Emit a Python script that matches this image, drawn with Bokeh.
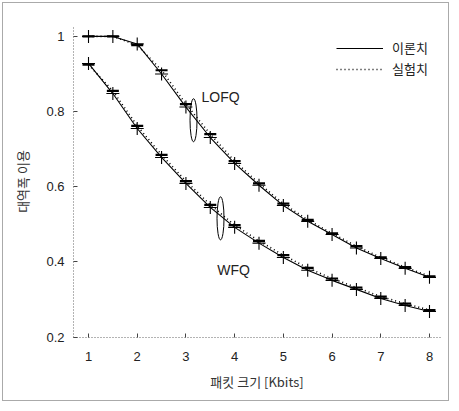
from bokeh.plotting import figure
from bokeh.models import Legend, LegendItem, Label, FixedTicker
from bokeh.embed import file_html
from bokeh.resources import INLINE

# ---- data ----
packet_kbits = [1, 1.5, 2, 2.5, 3, 3.5, 4, 4.5, 5, 5.5, 6, 6.5, 7, 7.5, 8]
lofq_theory = [1.0, 1.0, 0.98, 0.90, 0.812, 0.731, 0.662, 0.604, 0.55, 0.508, 0.473, 0.437, 0.409, 0.383, 0.359]
lofq_exp = [1.0, 1.0, 0.977, 0.91, 0.82, 0.74, 0.668, 0.609, 0.555, 0.512, 0.476, 0.442, 0.412, 0.386, 0.362]
wfq_theory = [0.928, 0.848, 0.755, 0.678, 0.609, 0.545, 0.492, 0.45, 0.412, 0.378, 0.351, 0.327, 0.303, 0.284, 0.268]
wfq_exp = [0.925, 0.855, 0.762, 0.685, 0.615, 0.552, 0.498, 0.456, 0.418, 0.384, 0.356, 0.332, 0.308, 0.289, 0.272]
x_ticks = [1, 2, 3, 4, 5, 6, 7, 8]
y_ticks = [0.2, 0.4, 0.6, 0.8, 1.0]
y_tick_labels = {0.2: "0.2", 0.4: "0.4", 0.6: "0.6", 0.8: "0.8", 1.0: "1"}
series_names = ["이론치", "실험치"]
group_names = ["LOFQ", "WFQ"]
group_label_pos = [(3.71, 0.838), (3.98, 0.378)]
ellipse_pos = [(3.156, 0.777), (3.71, 0.516)]

FONT = "Liberation Sans"
KFONT = "Noto Sans CJK KR"

W, H = 451, 403
p = figure(width=W, height=H, output_backend="svg", toolbar_location=None,
           x_range=(0.692, 8.226), y_range=(0.199, 1.029),
           min_border_left=73, min_border_right=11, min_border_top=25, min_border_bottom=66)
p.outline_line_color = None
p.grid.visible = False
p.border_fill_color = None
p.background_fill_color = None
p.styles = {"background": "white", "outline": "1px solid #aaa", "outline-offset": "-3px"}

p.xaxis.ticker = FixedTicker(ticks=x_ticks)
p.yaxis.ticker = FixedTicker(ticks=y_ticks)
p.yaxis.major_label_overrides = y_tick_labels
for ax in (p.xaxis, p.yaxis):
    ax.axis_line_color = "#666"
    ax.axis_line_dash = "1 2"
    ax.major_tick_out = 0
    ax.major_tick_in = 4
    ax.major_tick_line_color = "#444"
    ax.minor_tick_line_color = None
    ax.major_label_text_font = FONT
    ax.major_label_text_font_size = "13px"
    ax.major_label_text_color = "#222"
    ax.axis_label_text_font = KFONT
    ax.axis_label_text_font_size = "13px"
    ax.axis_label_text_font_style = "normal"
    ax.axis_label_text_color = "#333"
p.xaxis.major_label_standoff = 14
p.yaxis.major_label_standoff = 9
p.xaxis.axis_label = "패킷 크기 [Kbits]"
p.yaxis.axis_label = "대역폭 이용"
p.xaxis.axis_label_standoff = 8
p.yaxis.axis_label_standoff = 11

# theory (solid) and experiment (dotted)
r_th = []
r_ex = []
for th, ex in ((lofq_theory, lofq_exp), (wfq_theory, wfq_exp)):
    r_th.append(p.line(packet_kbits, th, line_color="black", line_width=1.1))
    r_ex.append(p.line(packet_kbits, ex, line_color="black", line_width=1.6, line_dash="1 3"))
    p.scatter(packet_kbits, th, marker="cross", size=13, line_color="black", line_width=1.1)
    p.scatter(packet_kbits, ex, marker="dash", size=12, line_color="black", line_width=2.2)

# ellipses marking the curve pairs
p.ellipse(x=[e[0] for e in ellipse_pos], y=[e[1] for e in ellipse_pos],
          width=7, height=43, width_units="screen", height_units="screen",
          fill_color=None, line_color="black", line_width=1)

for name, (gx, gy) in zip(group_names, group_label_pos):
    p.add_layout(Label(x=gx, y=gy, text=name, text_font=FONT, text_font_size="14px",
                       text_color="#222", text_align="center", text_baseline="middle"))

legend = Legend(items=[LegendItem(label=series_names[0], renderers=[r_th[0]]),
                       LegendItem(label=series_names[1], renderers=[r_ex[0]])],
                location=(263, 259), orientation="vertical",
                glyph_width=47, glyph_height=14, label_height=14, label_standoff=9, spacing=2,
                padding=0, margin=0, border_line_color=None, background_fill_alpha=0,
                label_text_font=KFONT, label_text_font_size="13px", label_text_color="#222")
p.add_layout(legend)

open("out.html", "w").write(file_html(p, INLINE))
